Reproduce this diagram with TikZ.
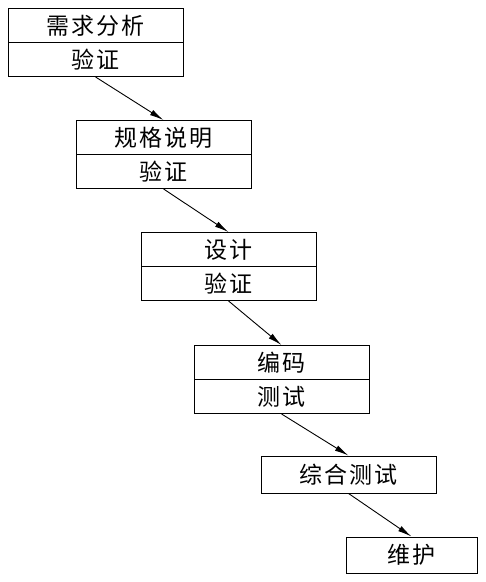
\documentclass[tikz,border=0pt]{standalone}
\usepackage{fontspec}
\usepackage{tikz}
\usetikzlibrary{arrows.meta}
\newfontfamily\cjk[LetterSpace=10]{Noto Sans CJK SC}
\tikzset{arrow/.style={-{Latex[length=14pt,width=6pt]}, line width=0.9pt}}
\tikzset{cell/.style={draw, line width=0.9pt, minimum width=175pt, minimum height=34pt, inner sep=0pt, font=\cjk\fontsize{23}{26}\selectfont}}

\begin{document}
\begin{tikzpicture}[x=1pt, y=-1pt]
    \useasboundingbox (0, 0) rectangle (486, 582);
    \node[cell] (req) at (95.5, 25.5) {需求分析};
    \node[cell] (reqv) at (95.5, 59.5) {验证};
    \node[cell] (spec) at (163.5, 137.5) {规格说明};
    \node[cell] (specv) at (163.5, 171.5) {验证};
    \node[cell] (des) at (228.5, 249.5) {设计};
    \node[cell] (desv) at (228.5, 283.5) {验证};
    \node[cell] (code) at (281.5, 362.5) {编码};
    \node[cell] (codet) at (281.5, 396.5) {测试};
    \node[cell, minimum height=37pt] (integ) at (348.5, 474.5) {综合测试};
    \node[cell, minimum width=131pt, minimum height=36pt] (maint) at (411.5, 555) {维护};
    \draw[arrow] (reqv.south) to (spec.north);
    \draw[arrow] (specv.south) to (des.north);
    \draw[arrow] (desv.south) to (code.north);
    \draw[arrow] (codet.south) to (integ.north);
    \draw[arrow] (integ.south) to (maint.north);
  \end{tikzpicture}
\end{document}
